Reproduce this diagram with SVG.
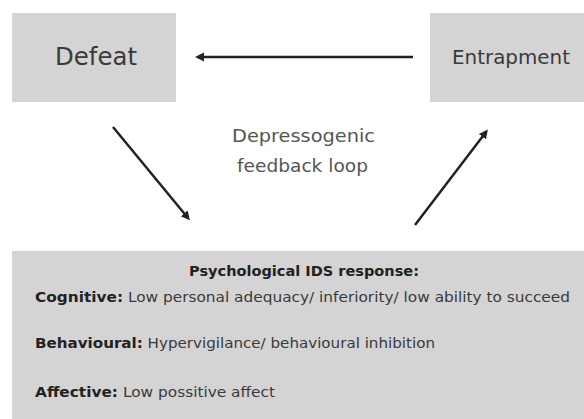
<svg xmlns="http://www.w3.org/2000/svg" width="584" height="419" viewBox="0 0 584 419">
<style>
.box{fill:#d4d4d4;}
.t{font-family:"DejaVu Sans","Liberation Sans",sans-serif;fill:#3a3a3a;}
.lbl{font-family:"DejaVu Sans","Liberation Sans",sans-serif;fill:#555;font-size:18px;}
.c{stroke:#222;stroke-width:2.5;fill:none;marker-end:url(#ah);}
.b{font-weight:bold;fill:#222;}
.s{font-size:14px;}
</style>
<defs>
<marker id="ah" markerWidth="12" markerHeight="12" refX="6" refY="4.5" orient="auto" markerUnits="userSpaceOnUse">
<path d="M0,0 L9,4.5 L0,9 Z" fill="#222"/>
</marker>
</defs>
<rect width="584" height="419" fill="#fff"/>
<g id="defeat">
<rect class="box" x="12" y="13" width="164" height="89"/>
<text class="t" x="55" y="65" font-size="24" textLength="82" lengthAdjust="spacingAndGlyphs">Defeat</text>
</g>
<g id="entrapment">
<rect class="box" x="430" y="13" width="154" height="89"/>
<text class="t" x="452" y="64" font-size="20" textLength="118" lengthAdjust="spacingAndGlyphs">Entrapment</text>
</g>
<g id="ids">
<rect class="box" x="12" y="251" width="572" height="168"/>
<text class="t s b" x="189" y="276" font-size="13.5" textLength="230" lengthAdjust="spacingAndGlyphs">Psychological IDS response:</text>
<text class="t s" x="35" y="302" textLength="535" lengthAdjust="spacingAndGlyphs"><tspan class="b">Cognitive:</tspan> Low personal adequacy/ inferiority/ low ability to succeed</text>
<text class="t s" x="35" y="348" textLength="400" lengthAdjust="spacingAndGlyphs"><tspan class="b">Behavioural:</tspan> Hypervigilance/ behavioural inhibition</text>
<text class="t s" x="35" y="397" textLength="240" lengthAdjust="spacingAndGlyphs"><tspan class="b">Affective:</tspan> Low possitive affect</text>
</g>
<g id="label">
<text class="lbl" x="232" y="142" textLength="143" lengthAdjust="spacingAndGlyphs">Depressogenic</text>
<text class="lbl" x="237" y="172" textLength="131" lengthAdjust="spacingAndGlyphs">feedback loop</text>
</g>
<g id="connectors">
<line class="c" x1="413" y1="57" x2="198" y2="57"/>
<line class="c" x1="113" y1="127" x2="188" y2="218"/>
<line class="c" x1="415" y1="225" x2="486" y2="132"/>
</g>
</svg>
